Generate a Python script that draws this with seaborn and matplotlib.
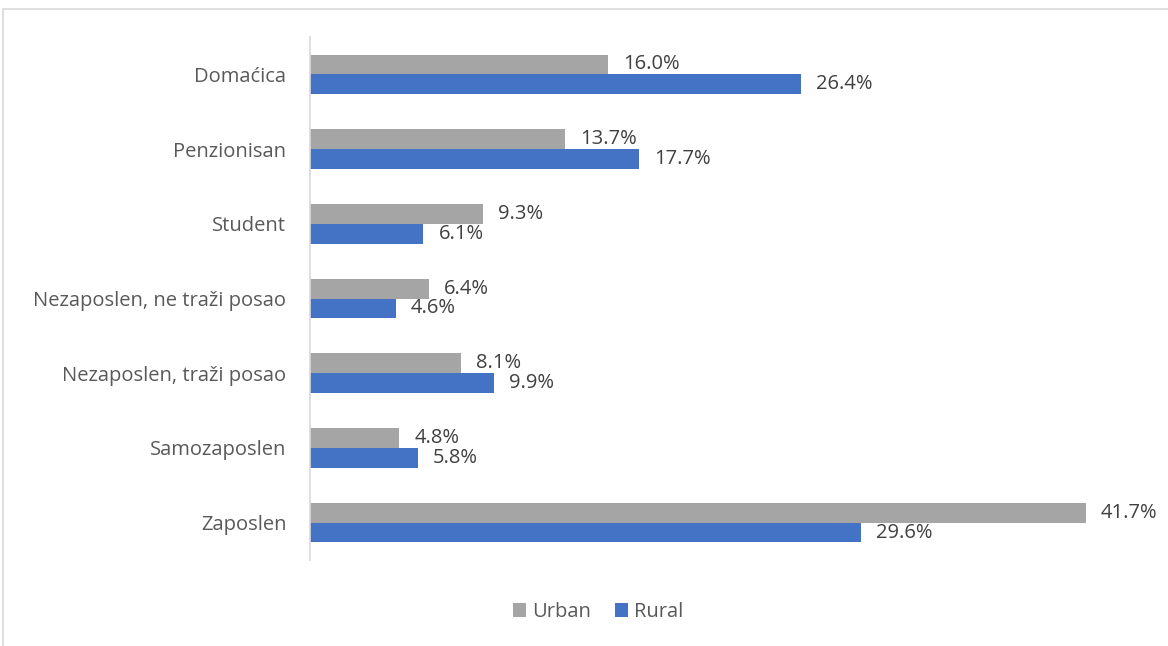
import matplotlib
matplotlib.use("Agg")
import matplotlib.pyplot as plt
import seaborn as sns
import pandas as pd
from matplotlib.patches import Rectangle

categories = ["Domaćica", "Penzionisan", "Student", "Nezaposlen, ne traži posao",
              "Nezaposlen, traži posao", "Samozaposlen", "Zaposlen"]
urban = [16.0, 13.7, 9.3, 6.4, 8.1, 4.8, 41.7]
rural = [26.4, 17.7, 6.1, 4.6, 9.9, 5.8, 29.6]
series = ["Urban", "Rural"]
colors = ["#A5A5A5", "#4472C4"]

df = pd.DataFrame({
    "cat": categories * 2,
    "val": urban + rural,
    "series": ["Urban"] * len(categories) + ["Rural"] * len(categories),
})

sns.set_theme(style="white")
plt.rcParams['font.family'] = ['Open Sans', 'DejaVu Sans']

fig = plt.figure(figsize=(11.68, 6.46), dpi=100)
ax = fig.add_axes([310/1168, 1 - 560/646, (1147-310)/1168, 523/646])

sns.barplot(data=df, y="cat", x="val", hue="series", order=categories,
            hue_order=series, palette=colors, width=0.53, orient="h",
            ax=ax, legend=True, saturation=1, linewidth=0)

for c in ax.containers:
    ax.bar_label(c, labels=[f"{v:.1f}%" for v in c.datavalues], padding=11,
                 fontsize=14.5, color="#404040")

ax.set_xlim(0, 45)
ax.set_ylim(len(categories) - 0.5, -0.5)
ax.set_xlabel("")
ax.set_ylabel("")
ax.set_xticks([])
ax.tick_params(axis="y", length=0, pad=17, labelsize=14.5, labelcolor="#595959")
for s in ["top", "right", "bottom"]:
    ax.spines[s].set_visible(False)
ax.spines["left"].set_color("#D9D9D9")
ax.spines["left"].set_linewidth(1.2)

leg = ax.legend(loc="center", bbox_to_anchor=(598/1168, 1 - 612/646),
                bbox_transform=fig.transFigure, ncol=2, frameon=False,
                fontsize=14.5, handlelength=0.65, handleheight=0.65,
                handletextpad=0.3, columnspacing=1.2)
for t in leg.get_texts():
    t.set_color("#595959")

fig.patches.append(Rectangle((3/1168, -0.1), 1.2, 1.1 - 9/646, transform=fig.transFigure,
                             fill=False, edgecolor="#D9D9D9", linewidth=1.2))

fig.savefig("out.png", dpi=100)
